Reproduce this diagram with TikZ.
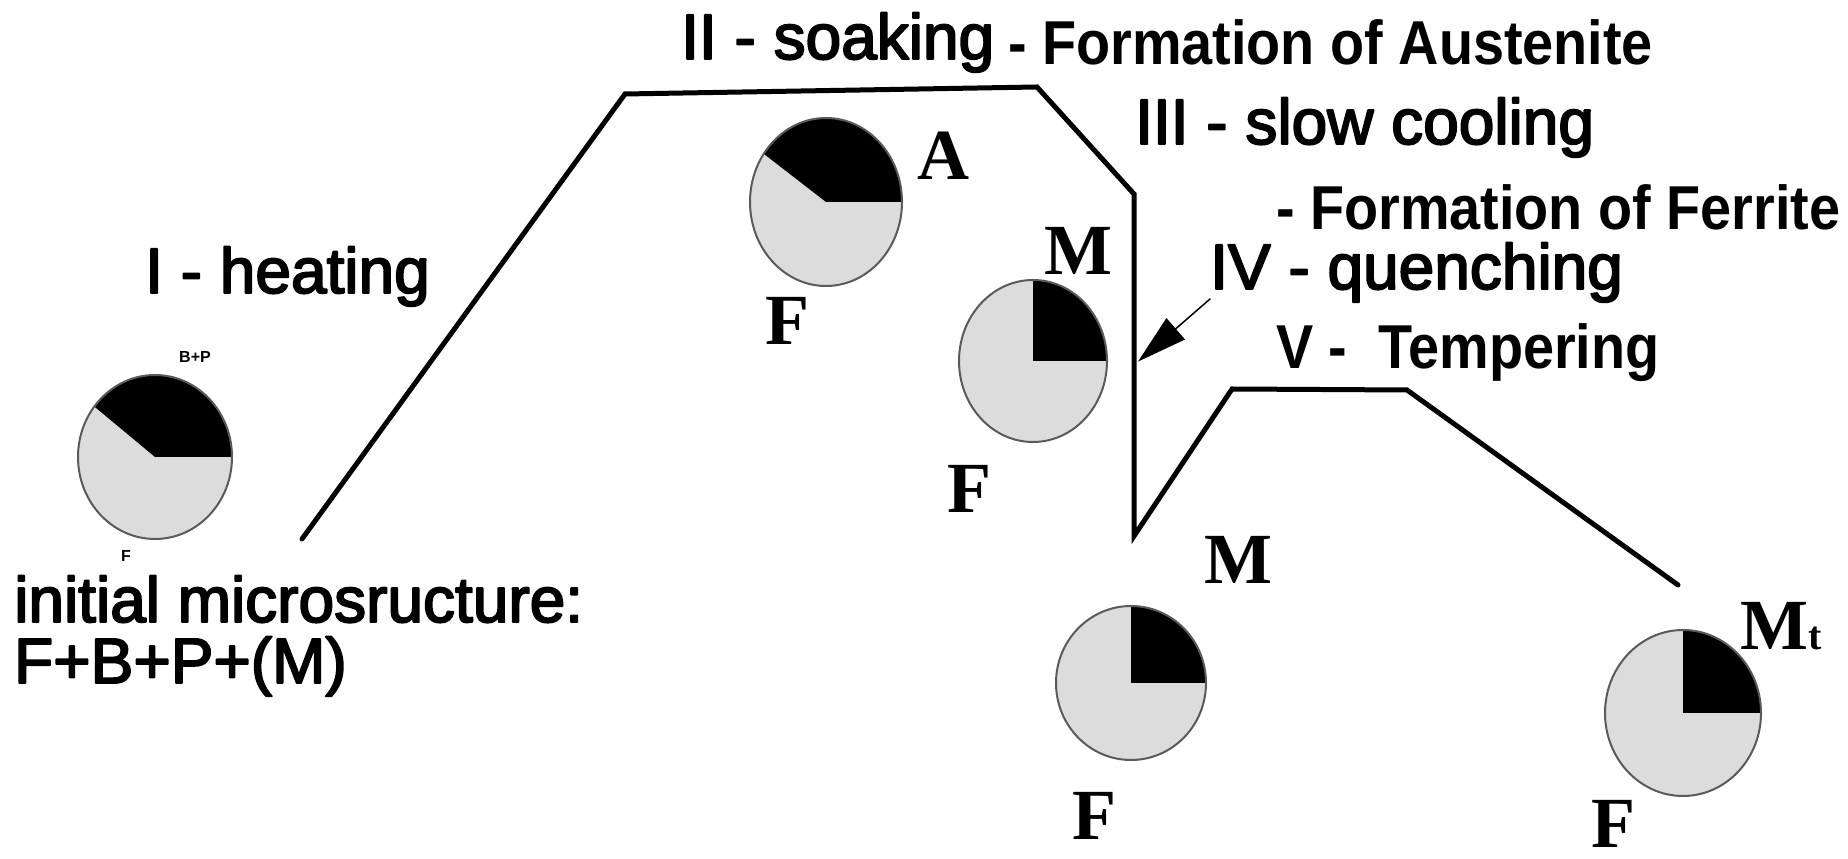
\documentclass[tikz,border=0pt]{standalone}
\usepackage{fontspec}
\setmainfont{Liberation Sans}
\newfontfamily\stagefont{Liberation Sans}[FakeBold=3]
\newfontfamily\notefont{Liberation Sans}[FakeStretch=0.9]
\newfontfamily\phasefont{Liberation Serif}
\usetikzlibrary{arrows.meta,calc}
\definecolor{pielight}{HTML}{DCDCDC}
\definecolor{pieedge}{HTML}{5A5A5A}

\begin{document}
\begin{tikzpicture}[x=1pt, y=1pt, line join=round, line cap=round,
  stage/.style={font=\stagefont\fontsize{64}{64}\selectfont, anchor=base west, inner sep=0pt},
  note/.style={font=\notefont\bfseries\fontsize{62}{62}\selectfont, anchor=base west, inner sep=0pt},
  phase/.style={font=\phasefont\bfseries\fontsize{72}{72}\selectfont, inner sep=0pt},
  tag/.style={font=\bfseries\fontsize{16}{16}\selectfont, inner sep=0pt},
  route/.style={line width=5pt, line join=miter}]
  \useasboundingbox (0,0) rectangle (1848,859);

  \foreach \n/\cx/\cy/\rx/\ry/\a in {pa/155/402/77/82/142, pb/826/657/76/84/145, pc/1033/498/74/81/90, pd/1131/176/75/77/90, pe/1683/146/78/83/90}{
    \coordinate (\n) at (\cx,\cy);
    \fill[pielight] (\n) ellipse [x radius=\rx, y radius=\ry];
    \fill[black] (\n) -- ++(\rx,0) arc[start angle=0, end angle=\a, x radius=\rx, y radius=\ry] -- cycle;
    \draw[pieedge, line width=2pt] (\n) ellipse [x radius=\rx, y radius=\ry];
  }

  \node[tag] (bp) at (195,502) {B+P};
  \node[tag] (fs) at (126,303) {F};
  \node[phase] (la) at (943,703) {A};
  \node[phase] (lfa) at (787,538) {F};
  \node[phase] (lm1) at (1078,608) {M};
  \node[phase] (lf1) at (969,370) {F};
  \node[phase] (lm2) at (1238,299) {M};
  \node[phase] (lf2) at (1094,43) {F};
  \node[phase, anchor=base west] (lmt) at (1740,209) {M\fontsize{40}{40}\selectfont t};
  \node[phase, anchor=base] (lf3) at (1613,11) {F};

  \node[stage] (heat) at (145,566) {I - heating};
  \node[stage] (init) at (14,237) {initial microsructure:};
  \node[stage] (mix) at (14,176) {F+B+P+(M)};
  \node[stage] (soak) at (681,800) {II - soaking};
  \node[note] (aus) at (1008,794) {- Formation of Austenite};
  \node[stage] (cool) at (1135,715) {III - slow cooling};
  \node[note] (fer) at (1276,629) {- Formation of Ferrite};
  \node[stage] (quench) at (1210,570) {IV - quenching};
  \node[note] (temper) at (1276,490) {V -~ Tempering};

  \coordinate (h0) at (302,320);
  \coordinate (h1) at (625,765);
  \coordinate (h2) at (1037,772);
  \coordinate (h3) at (1134,665);
  \coordinate (h4) at (1134,323);
  \coordinate (h5) at (1232,470);
  \coordinate (h6) at (1407,469);
  \coordinate (h7) at (1678,274);
  \draw[route] (h0) -- (h1) -- (h2) -- (h3) -- (h4) -- (h5) -- (h6) -- (h7);

  \coordinate (qtail) at (1210,560);
  \coordinate (qtip) at ($(h3)!0.49!(h4)+(4,0)$);
  \draw[line width=1.5pt, -{Triangle[length=50pt, width=28pt]}] (qtail) -- (qtip);
\end{tikzpicture}
\end{document}
